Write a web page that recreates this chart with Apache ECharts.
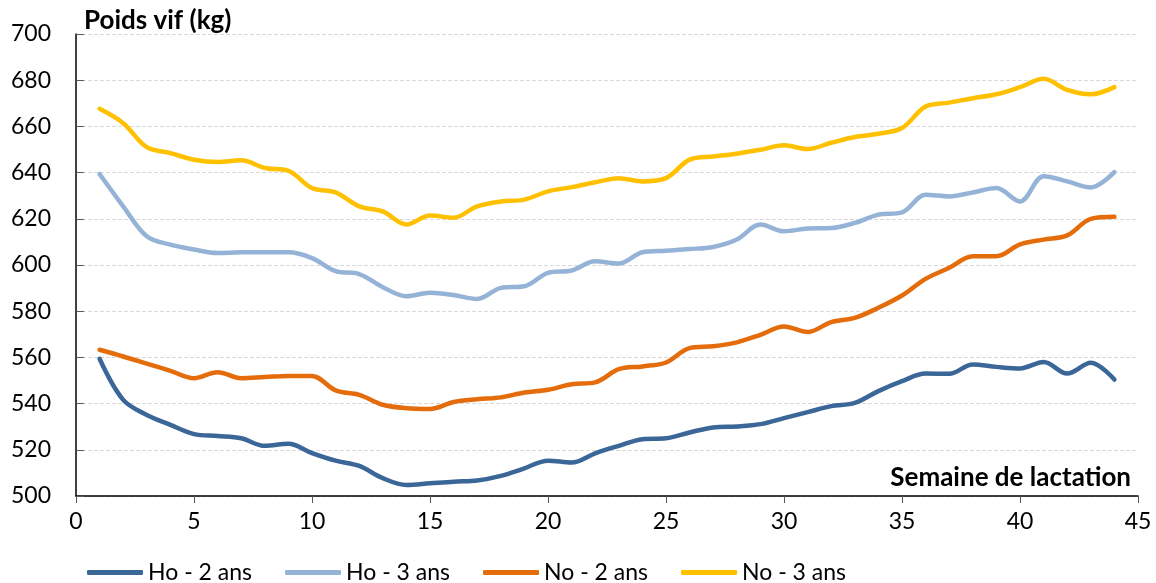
<!DOCTYPE html>
<html>
<head>
<meta charset="utf-8">
<script src="https://cdn.jsdelivr.net/npm/echarts@6/dist/echarts.min.js"></script>
<style>
  html, body { margin: 0; padding: 0; background: #fff; }
  #chart { width: 1156px; height: 583px; }
</style>
</head>
<body>
<div id="chart"></div>
<script>
// semaines de lactation 1..44
var semaines = [];
for (var i = 1; i <= 44; i++) semaines.push(i);

var ho2 = [559.4, 541.6, 535.1, 530.8, 526.8, 526.0, 525.0, 521.7, 522.6, 518.6,
           515.3, 513.0, 507.7, 504.8, 505.5, 506.2, 506.7, 508.7, 512.0, 515.3,
           514.5, 518.5, 521.7, 524.6, 525.0, 527.5, 529.7, 530.1, 531.1, 533.7,
           536.3, 538.9, 540.3, 545.4, 549.7, 553.0, 552.9, 556.9, 555.9, 555.2,
           558.0, 553.0, 557.7, 550.4];
var ho3 = [639.4, 625.4, 612.4, 608.8, 606.7, 605.2, 605.5, 605.5, 605.5, 603.0,
           597.3, 596.1, 590.4, 586.5, 588.0, 587.0, 585.3, 590.1, 590.8, 596.6,
           597.6, 601.6, 600.6, 605.5, 606.2, 606.9, 607.8, 611.0, 617.5, 614.6,
           615.8, 616.0, 618.2, 621.8, 622.8, 630.4, 629.7, 631.4, 633.3, 627.5,
           638.4, 636.2, 633.6, 640.2];
var no2 = [563.3, 560.4, 557.3, 554.2, 551.0, 553.6, 551.0, 551.5, 552.0, 552.0,
           545.7, 543.8, 539.5, 538.0, 537.7, 540.7, 541.9, 542.7, 544.8, 546.0,
           548.4, 549.2, 554.9, 556.1, 557.8, 564.0, 564.8, 566.5, 569.8, 573.4,
           571.0, 575.3, 577.1, 581.5, 586.8, 594.0, 598.8, 603.8, 603.8, 608.9,
           611.0, 612.8, 620.0, 620.9];
var no3 = [667.6, 661.4, 651.0, 648.4, 645.6, 644.6, 645.3, 642.0, 640.8, 633.3,
           631.4, 625.4, 623.2, 617.5, 621.4, 620.5, 625.4, 627.5, 628.3, 631.9,
           633.7, 635.8, 637.6, 636.2, 637.6, 645.6, 647.0, 648.2, 649.9, 651.8,
           650.2, 652.9, 655.4, 656.8, 659.3, 668.6, 670.3, 672.2, 673.9, 677.0,
           680.6, 675.8, 673.9, 677.0];

var noms = ['Ho - 2 ans', 'Ho - 3 ans', 'No - 2 ans', 'No - 3 ans'];
var couleurs = ['#3B6698', '#95B3D7', '#E46C0A', '#FFC000'];

function paires(vals) {
    return vals.map(function (v, k) { return [semaines[k], v]; });
}

var chart = echarts.init(document.getElementById('chart'));
var police = 'Lato, "Open Sans", sans-serif';

var option = {
    animation: false,
    color: couleurs,
    textStyle: { fontFamily: police },
    title: [{
        text: 'Poids vif (kg)',
        left: 79, top: 3,
        textStyle: { fontSize: 26, fontWeight: 'bold', color: '#000', fontFamily: police }
    }, {
        text: 'Semaine de lactation',
        right: 20, top: 460,
        textStyle: { fontSize: 26, fontWeight: 'bold', color: '#000', fontFamily: police }
    }],
    legend: {
        data: noms,
        left: 82,
        top: 556,
        itemWidth: 56,
        itemHeight: 5,
        itemGap: 33,
        icon: 'roundRect',
        textStyle: { fontSize: 23, color: '#000', fontFamily: police }
    },
    grid: { left: 76, right: 18, top: 34, bottom: 87 },
    xAxis: {
        type: 'value',
        min: 0, max: 45, interval: 5,
        axisLine: { lineStyle: { color: '#000', width: 1.5 } },
        axisTick: { show: true, length: 7, lineStyle: { color: '#595959' } },
        axisLabel: { fontSize: 23, color: '#000', margin: 14 },
        splitLine: { show: false }
    },
    yAxis: {
        type: 'value',
        min: 500, max: 700, interval: 20,
        axisLine: { show: true, lineStyle: { color: '#000', width: 1.5 } },
        axisTick: { show: true, inside: true, length: 8, lineStyle: { color: '#595959' } },
        axisLabel: { fontSize: 23, color: '#000', margin: 25 },
        splitLine: { show: true, lineStyle: { color: '#d9d9d9', type: 'dashed' } }
    },
    series: [ho2, ho3, no2, no3].map(function (vals, k) {
        return {
            name: noms[k],
            type: 'line',
            smooth: 0.35,
            showSymbol: false,
            data: paires(vals),
            lineStyle: { width: 4.5, color: couleurs[k], cap: 'round' },
            itemStyle: { color: couleurs[k] }
        };
    })
};
chart.setOption(option);
</script>
</body>
</html>
